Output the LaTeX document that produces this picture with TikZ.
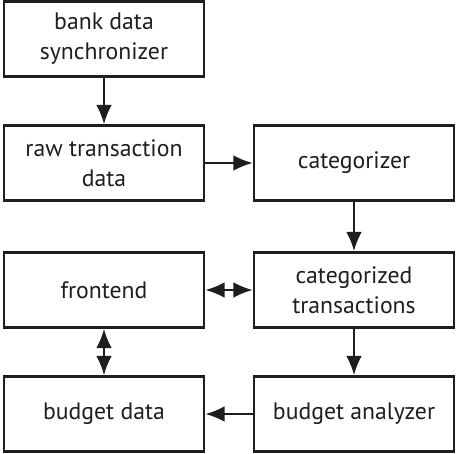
\documentclass[tikz,border=0pt]{standalone}
\usepackage{fontspec}
\setmainfont{PT Sans}
\usepackage{tikz}
\usetikzlibrary{arrows.meta, positioning}
\definecolor{DG}{RGB}{30,30,30}

\begin{document}
\begin{tikzpicture}[
  block/.style={draw=DG, line width=1.5pt, minimum width=4cm, minimum height=1.5cm,
                align=center, text=DG, font=\fontsize{13.5}{17}\selectfont, inner sep=2pt},
  flow/.style={draw=DG, line width=1.3pt, -{Latex[length=11pt, width=9pt]}},
  both/.style={draw=DG, line width=1.3pt, {Latex[length=11pt, width=9pt]}-{Latex[length=11pt, width=9pt]}}
]
\useasboundingbox (0,0) rectangle (9.12,-9.06);
\node[block] (sync)   at (2.08,-0.78) {bank data\\synchronizer};
\node[block] (raw)    at (2.08,-3.26) {raw transaction\\data};
\node[block] (catz)   at (7.08,-3.26) {categorizer};
\node[block] (front)  at (2.08,-5.80) {frontend};
\node[block] (cattx)  at (7.08,-5.80) {categorized\\transactions};
\node[block] (budget) at (2.08,-8.28) {budget data};
\node[block] (anlz)   at (7.08,-8.28) {budget analyzer};

\draw[flow] (sync) -- (raw);
\draw[flow] (raw) -- (catz);
\draw[flow] (catz) -- (cattx);
\draw[both] (front) -- (cattx);
\draw[both] (front) -- (budget);
\draw[flow] (cattx) -- (anlz);
\draw[flow] (anlz) -- (budget);
\end{tikzpicture}
\end{document}
